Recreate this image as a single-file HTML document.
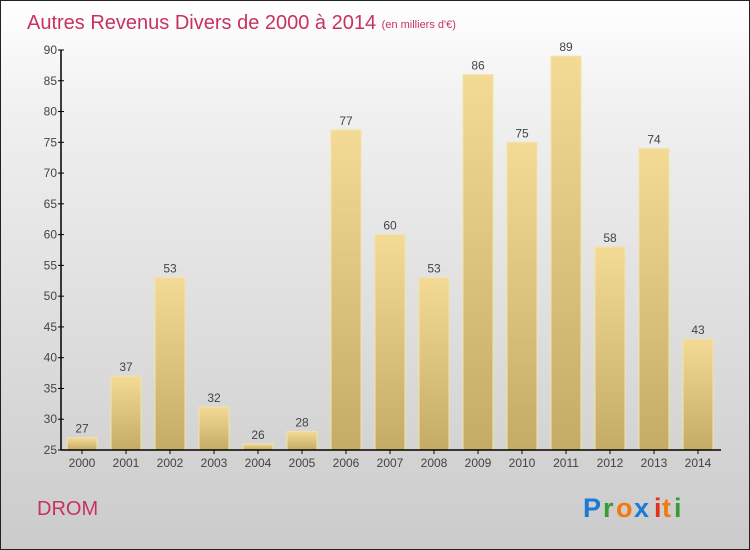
<!DOCTYPE html>
<html><head><meta charset="utf-8"><style>
body{margin:0}
#c{width:748px;height:548px;border:1px solid #222;background:linear-gradient(#fff,#f0f0f0 20%,#cbcbcb);position:relative;font-family:"Liberation Sans",sans-serif;overflow:hidden}
</style></head><body>
<div id="c">
<svg id="s" width="748" height="548">
<defs><linearGradient id="g" x1="0" y1="0" x2="0" y2="1"><stop offset="0" stop-color="#f3da95"/><stop offset="1" stop-color="#c4ac66"/></linearGradient></defs>
<text x="26" y="28" font-size="20" fill="#c8325f">Autres Revenus Divers de 2000 à 2014 <tspan font-size="11" dy="-1">(en milliers d'€)</tspan></text>
<text x="36" y="514" font-size="20" fill="#c8325f">DROM</text>
<g font-size="27" font-weight="bold" font-family="Liberation Sans,sans-serif">
<text x="582" y="516" fill="#1a7ad4">P</text><text x="602" y="516" fill="#3a9a3a">r</text><text x="615" y="516" fill="#f07a10">o</text><text x="633" y="516" fill="#1a7ad4">x</text><text x="653" y="516" fill="#e03020">i</text><text x="661" y="516" fill="#f07a10">t</text><text x="673" y="516" fill="#3a9a3a">i</text></g>
<g id="plot"></g>
</svg></div>
<script>
const categories=["2000","2001","2002","2003","2004","2005","2006","2007","2008","2009","2010","2011","2012","2013","2014"];
const values=[27,37,53,32,26,28,77,60,53,86,75,89,58,74,43];
const yTicks=[25,30,35,40,45,50,55,60,65,70,75,80,85,90];
const ns="http://www.w3.org/2000/svg",p=document.getElementById('plot');
const y=v=>449-(v-25)*400/65, x=i=>81+i*44;
function mk(t,a,parent){const e=document.createElementNS(ns,t);for(const k in a)e.setAttribute(k,a[k]);(parent||p).appendChild(e);return e;}
values.forEach((v,i)=>{
const r=mk('rect',{x:x(i)-15,y:y(v),width:30,height:y(25)-y(v),fill:'url(#g)',stroke:'#f5e3a8','stroke-width':1});


const t=mk('text',{x:x(i),y:y(v)-5,'text-anchor':'middle','font-size':12,fill:'#444'});t.textContent=v;


const c=mk('text',{x:x(i),y:466,'text-anchor':'middle','font-size':12,fill:'#444'});c.textContent=categories[i];


mk('line',{x1:x(i),x2:x(i),y1:449,y2:453,stroke:'#000'});
});
yTicks.forEach(v=>{
mk('line',{x1:57,x2:63,y1:y(v),y2:y(v),stroke:'#000'});
const t=mk('text',{x:56,y:y(v)+4,'text-anchor':'end','font-size':12,fill:'#444'});t.textContent=v;


});
const ya=mk('line',{x1:60,x2:60,y1:y(90),y2:449,stroke:'#000','stroke-width':1.5});


const xa=mk('line',{x1:60,x2:720,y1:449,y2:449,stroke:'#000','stroke-width':1.5});


</script>
</body></html>
